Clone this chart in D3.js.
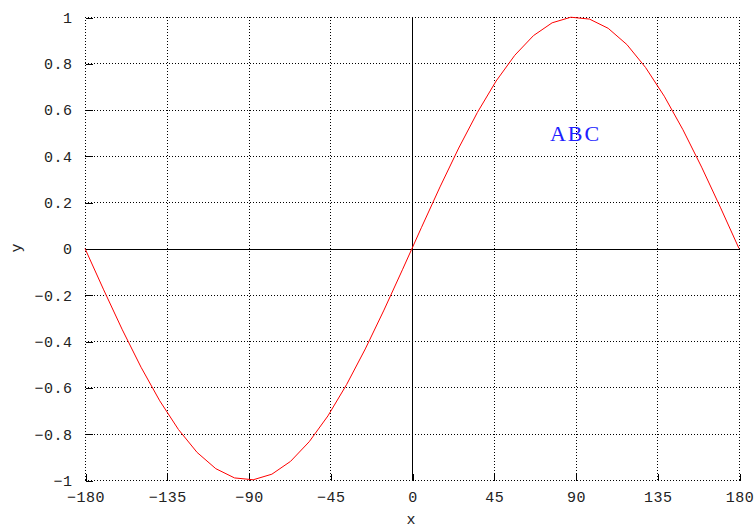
<!DOCTYPE html>
<html><head><meta charset="utf-8">
<script src="https://cdn.jsdelivr.net/npm/d3@7"></script>
<style>body{margin:0;background:#fff}svg{display:block}</style>
</head><body>
<svg id="c" width="755" height="529"></svg>
<script>
const xValues = [-180, -169.71, -159.43, -149.14, -138.86, -128.57, -118.29, -108, -97.71, -87.43, -77.14, -66.86, -56.57, -46.29, -36, -25.71, -15.43, -5.14, 5.14, 15.43, 25.71, 36, 46.29, 56.57, 66.86, 77.14, 87.43, 97.71, 108, 118.29, 128.57, 138.86, 149.14, 159.43, 169.71, 180];
const yValues = [0, -0.1786, -0.3514, -0.5129, -0.6579, -0.7818, -0.8809, -0.9511, -0.9910, -0.9990, -0.9749, -0.9196, -0.8346, -0.7232, -0.5878, -0.4339, -0.2660, -0.0896, 0.0896, 0.2660, 0.4339, 0.5878, 0.7232, 0.8346, 0.9196, 0.9749, 0.9990, 0.9910, 0.9511, 0.8809, 0.7818, 0.6579, 0.5129, 0.3514, 0.1786, 0];
const xTicks = [-180, -135, -90, -45, 0, 45, 90, 135, 180];
const yTicks = [-1, -0.8, -0.6, -0.4, -0.2, 0, 0.2, 0.4, 0.6, 0.8, 1];
const xLabel = "x", yLabel = "y";
const annotation = {text: "ABC", x: 90, y: 0.45};

const L = 85, R = 739, T = 17, B = 480;
const svg = d3.select("#c");
const x = d3.scaleLinear().domain([-180, 180]).range([L, R]);
const y = d3.scaleLinear().domain([-1, 1]).range([B, T]);
const font = "'Liberation Mono', 'DejaVu Sans Mono', monospace";
const px = v => Math.round(v) + 0.5;

// grid (dotted)
const grid = svg.append("g").attr("stroke", "#000").attr("stroke-width", 1).attr("stroke-dasharray", "1,2").attr("shape-rendering", "crispEdges");
grid.selectAll("line.v").data(xTicks).join("line")
  .attr("x1", d => px(x(d))).attr("x2", d => px(x(d))).attr("y1", T).attr("y2", B + 1);
grid.selectAll("line.h").data(yTicks).join("line")
  .attr("y1", d => px(y(d))).attr("y2", d => px(y(d))).attr("x1", L).attr("x2", R + 1);

// zero axes
svg.append("line").attr("x1", L).attr("x2", R).attr("y1", px(y(0))).attr("y2", px(y(0))).attr("stroke", "#000").attr("shape-rendering", "crispEdges");
svg.append("line").attr("x1", px(x(0))).attr("x2", px(x(0))).attr("y1", T).attr("y2", B).attr("stroke", "#000").attr("shape-rendering", "crispEdges");

// axes with inward ticks
const yAxis = d3.axisLeft(y).tickValues(yTicks).tickSizeInner(-7).tickSizeOuter(0).tickFormat(d3.format(""));
const gy = svg.append("g").attr("transform", `translate(${L + 0.5},0.5)`).call(yAxis);
gy.select(".domain").remove();
gy.selectAll(".tick line").attr("stroke", "#000").attr("shape-rendering", "crispEdges");
gy.selectAll(".tick text").attr("font-family", font).attr("font-size", 15).attr("fill", "#222").attr("x", -13).attr("letter-spacing", 0.5);

const xAxis = d3.axisBottom(x).tickValues(xTicks).tickSizeInner(-7).tickSizeOuter(0).tickFormat(d3.format(""));
const gx = svg.append("g").attr("transform", `translate(0.5,${B + 0.5})`).call(xAxis);
gx.select(".domain").remove();
gx.selectAll(".tick line").attr("stroke", "#000").attr("shape-rendering", "crispEdges");
gx.selectAll(".tick text").attr("font-family", font).attr("font-size", 15).attr("fill", "#222").attr("y", 11).attr("letter-spacing", 0.5);

// curve
const line = d3.line().x((d, i) => x(xValues[i])).y(d => y(d));
svg.append("path").datum(yValues).attr("d", line).attr("fill", "none").attr("stroke", "#ff0000").attr("stroke-width", 1);

// labels
svg.append("text").attr("x", 411).attr("y", 524).attr("text-anchor", "middle").attr("font-family", font).attr("font-size", 15).attr("fill", "#222").text(xLabel);
svg.append("text").attr("transform", "translate(21,248) rotate(-90)").attr("text-anchor", "middle").attr("font-family", font).attr("font-size", 15).attr("fill", "#222").text(yLabel);

svg.append("text").attr("x", x(annotation.x)).attr("y", 141).attr("text-anchor", "middle")
  .attr("font-family", "'Liberation Serif', 'DejaVu Serif', serif").attr("font-size", 22).attr("letter-spacing", 2).attr("fill", "#2020ff").text(annotation.text);
</script>
</body></html>
